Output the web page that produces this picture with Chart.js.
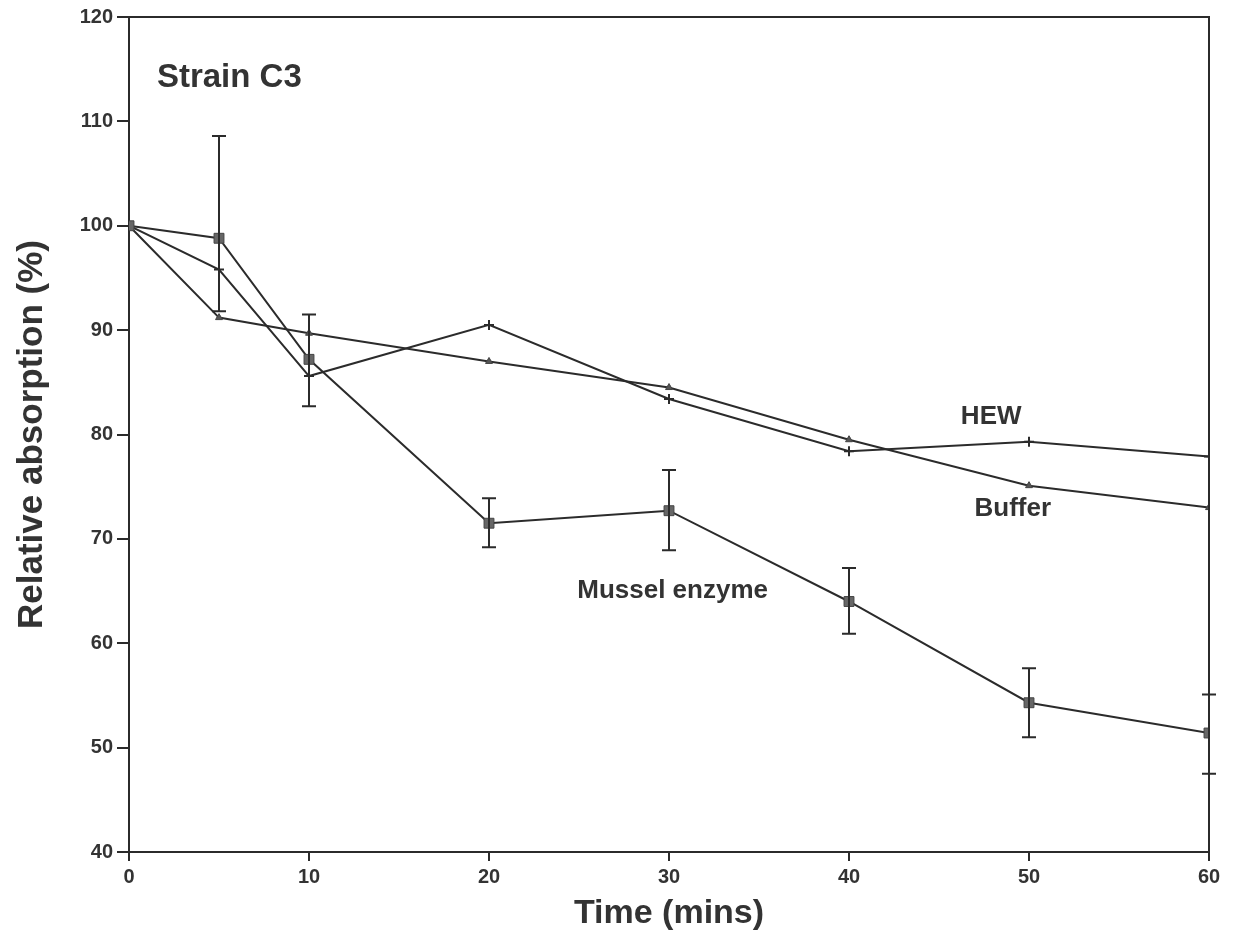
<!DOCTYPE html>
<html>
<head>
<meta charset="utf-8">
<script src="https://cdn.jsdelivr.net/npm/chart.js@4"></script>
<style>
  html, body { margin: 0; padding: 0; background: #fff; }
  #wrap { width: 1234px; height: 941px; }
</style>
</head>
<body>
<div id="wrap"><canvas id="strainC3"></canvas></div>
<script>
const times = [0, 5, 10, 20, 30, 40, 50, 60];
const mussel = [100, 98.8, 87.2, 71.5, 72.7, 64.0, 54.3, 51.4];
const musselLow = [100, 91.8, 82.7, 69.2, 68.9, 60.9, 51.0, 47.5];
const musselHigh = [100, 108.6, 91.5, 73.9, 76.6, 67.2, 57.6, 55.1];
const hew = [100, 95.8, 85.6, 90.5, 83.4, 78.4, 79.3, 77.9];
const buffer = [100, 91.2, 89.7, 87.0, 84.5, 79.5, 75.1, 73.0];
const xTicks = [0, 10, 20, 30, 40, 50, 60];
const yTicks = [40, 50, 60, 70, 80, 90, 100, 110, 120];

const ink = '#2b2b2b';
const fontFamily = '"Liberation Sans", Arial, sans-serif';

function pts(vals) {
    return times.map((t, i) => ({ x: t, y: vals[i] }));
}

// box round the plot, error bars and the text labels
const extras = {
    id: 'extras',
    afterDatasetsDraw(chart) {
        const { ctx, chartArea: a, scales: { x, y } } = chart;
        ctx.save();
        ctx.strokeStyle = ink;
        ctx.lineWidth = 2;
        ctx.beginPath();
        ctx.moveTo(a.left, a.top);
        ctx.lineTo(a.right, a.top);
        ctx.lineTo(a.right, a.bottom);
        ctx.stroke();

        // error bars on the mussel enzyme series
        times.forEach((t, i) => {
            if (musselLow[i] === musselHigh[i]) return;
            const px = x.getPixelForValue(t);
            const lo = y.getPixelForValue(musselLow[i]);
            const hi = y.getPixelForValue(musselHigh[i]);
            ctx.beginPath();
            ctx.moveTo(px, lo);
            ctx.lineTo(px, hi);
            ctx.moveTo(px - 7, lo);
            ctx.lineTo(px + 7, lo);
            ctx.moveTo(px - 7, hi);
            ctx.lineTo(px + 7, hi);
            ctx.stroke();
        });

        ctx.fillStyle = '#333';
        ctx.textBaseline = 'middle';
        ctx.textAlign = 'left';
        ctx.font = 'bold 33px ' + fontFamily;
        ctx.fillText('Strain C3', x.getPixelForValue(1.55), y.getPixelForValue(114.2));
        ctx.textAlign = 'center';
        ctx.font = 'bold 26px ' + fontFamily;
        ctx.fillText('HEW', x.getPixelForValue(47.9), y.getPixelForValue(81.7));
        ctx.fillText('Buffer', x.getPixelForValue(49.1), y.getPixelForValue(72.9));
        ctx.fillText('Mussel enzyme', x.getPixelForValue(30.2), y.getPixelForValue(65.0));
        ctx.restore();
    }
};

Chart.defaults.font.family = fontFamily;
Chart.defaults.color = '#333';

new Chart(document.getElementById('strainC3'), {
    type: 'line',
    data: {
        datasets: [
            {
                label: 'Mussel enzyme',
                data: pts(mussel),
                borderColor: ink,
                borderWidth: 2,
                pointStyle: 'rect',
                pointRadius: 7,
                pointBackgroundColor: '#666',
                pointBorderColor: '#444',
                pointBorderWidth: 1
            },
            {
                label: 'HEW',
                data: pts(hew),
                borderColor: ink,
                borderWidth: 2,
                pointStyle: 'cross',
                pointRadius: 5,
                pointBorderColor: ink,
                pointBorderWidth: 2
            },
            {
                label: 'Buffer',
                data: pts(buffer),
                borderColor: ink,
                borderWidth: 2,
                pointStyle: 'triangle',
                pointRadius: 4,
                pointBackgroundColor: '#555',
                pointBorderColor: '#444',
                pointBorderWidth: 1
            }
        ]
    },
    options: {
        responsive: true,
        maintainAspectRatio: false,
        animation: false,
        layout: { padding: { top: 17, right: 25, left: 0, bottom: 0 } },
        plugins: {
            legend: { display: false },
            tooltip: { enabled: false }
        },
        scales: {
            x: {
                type: 'linear',
                min: 0,
                max: 60,
                afterFit: s => { s.height = 89; },
                afterBuildTicks: s => { s.ticks = xTicks.map(v => ({ value: v })); },
                grid: { drawOnChartArea: false, tickLength: 9, color: ink, lineWidth: 2 },
                border: { color: ink, width: 2 },
                ticks: {
                    padding: 4,
                    color: '#333',
                    font: { size: 20, weight: 'bold' }
                },
                title: {
                    display: true,
                    text: 'Time (mins)',
                    color: '#333',
                    font: { size: 34, weight: 'bold', lineHeight: 1.2 },
                    padding: { top: 0, bottom: 7 }
                }
            },
            y: {
                min: 40,
                max: 120,
                afterFit: s => { s.width = 129; },
                afterBuildTicks: s => { s.ticks = yTicks.map(v => ({ value: v })); },
                grid: { drawOnChartArea: false, tickLength: 12, color: ink, lineWidth: 2 },
                border: { color: ink, width: 2 },
                ticks: {
                    padding: 4,
                    color: '#333',
                    font: { size: 20, weight: 'bold' }
                },
                title: {
                    display: true,
                    text: 'Relative absorption (%)',
                    color: '#333',
                    font: { size: 35, weight: 'bold', lineHeight: 1.2 },
                    padding: { top: 11, bottom: 0 }
                }
            }
        }
    },
    plugins: [extras]
});
</script>
</body>
</html>
